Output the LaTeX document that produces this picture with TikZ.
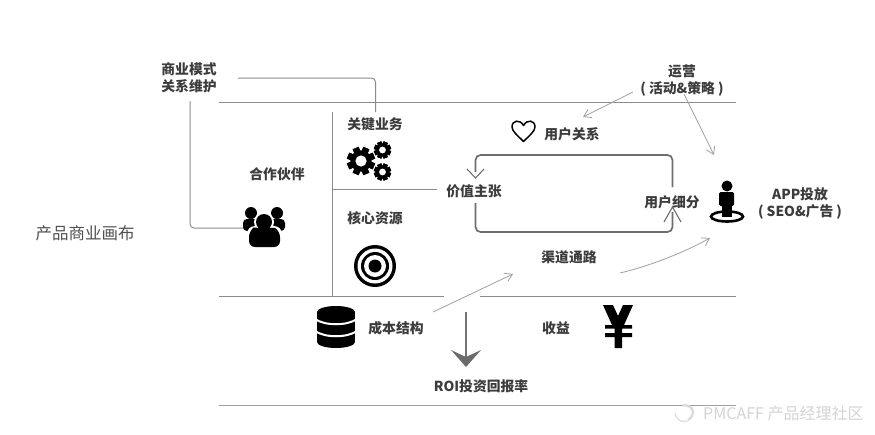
\documentclass[tikz,border=0pt]{standalone}
\usepackage{fontspec}
\setmainfont{Noto Sans CJK SC}
\usetikzlibrary{arrows.meta}
\definecolor{txt}{HTML}{3C3C3C}
\definecolor{rule}{HTML}{8C8C8C}
\definecolor{thin}{HTML}{A0A0A0}
\definecolor{loopc}{HTML}{6E6E6E}
\tikzset{
 lab/.style={font=\fontsize{13.8}{17}\selectfont\bfseries,text=txt,inner sep=0pt,align=center},
 plainlab/.style={font=\fontsize{16.5}{18}\selectfont,text=txt!90,inner sep=0pt},
 wm/.style={font=\fontsize{16}{18}\selectfont,text=black!17,inner sep=0pt},
 hline/.style={draw=rule,line width=1pt},
 wire/.style={draw=black!45,line width=1pt,rounded corners=4pt},
 ptr/.style={draw=thin,line width=.8pt,-{Straight Barb[length=7pt,width=9pt]}},
 looparrow/.style={draw=loopc,line width=1.7pt,rounded corners=5pt},
 ico/.style={fill=black,draw=none}
}
\newcommand{\gearicon}[4]{% x y outer teeth-half-width
 \begin{scope}[shift={(#1,#2)}]
  \foreach \a in {0,45,...,315}{\fill[black,rotate=\a+22.5] (-#4,-#3) rectangle (#4,#3);}
  \fill[black] (0,0) circle[radius=#3*0.76];
  \fill[white] (0,0) circle[radius=#3*0.40];
 \end{scope}}
\begin{document}
\begin{tikzpicture}[x=1pt,y=-1pt]
\useasboundingbox (0,0) rectangle (875,434);
\fill[white] (0,0) rectangle (875,434);
% coordinates
\coordinate (t1) at (219,102); \coordinate (t2) at (736,102);
\coordinate (m1) at (219,296); \coordinate (m2) at (444,296);
\coordinate (m3) at (480,296); \coordinate (m4) at (736,296);
\coordinate (b1) at (219,405); \coordinate (b2) at (736,405);
\coordinate (v1) at (332.5,112); \coordinate (v2) at (332.5,296);
\coordinate (h1) at (332.5,189); \coordinate (h2) at (437,189);
% rules
\draw[hline] (t1)--(t2);
\draw[hline] (m1)--(m2);
\draw[hline] (m3)--(m4);
\draw[hline,draw=thin] (b1)--(b2);
\draw[hline] (v1)--(v2);
\draw[hline] (h1)--(h2);
% labels
\node[plainlab] (canvas) at (85,233) {产品商业画布};
\node[lab] (model) at (189,78) {商业模式\\关系维护};
\node[lab] (partner) at (277,174) {合作伙伴};
\node[lab] (key) at (375,124) {关键业务};
\node[lab] (res) at (375,218) {核心资源};
\node[lab] (rel) at (572,134) {用户关系};
\node[lab] (val) at (474,191) {价值主张};
\node[lab] (seg) at (672,202) {用户细分};
\node[lab] (ops) at (682,81) {运营\\( 活动\&策略 )};
\node[lab] (app) at (800,203) {APP投放\\( SEO\&广告 )};
\node[lab] (chan) at (569,257) {渠道通路};
\node[lab] (cost) at (396,328) {成本结构};
\node[lab] (rev) at (556,328) {收益};
\node[lab] (roi) at (481,386) {ROI投资回报率};
\node[wm,anchor=west] (mark) at (703,413) {PMCAFF 产品经理社区};
\draw[black!14,line width=2.4pt] (683,405) .. controls (694,405) and (696,415) .. (688,420);
\draw[black!14,line width=1.2pt] (675,413) .. controls (676,420) and (682,423) .. (688,421);
% wires
\coordinate (w1a) at (238,78); \coordinate (w1b) at (375.5,78); \coordinate (w1c) at (375.5,112);
\draw[wire] (w1a)--(w1b)--(w1c);
\coordinate (w2a) at (190,101); \coordinate (w2b) at (190,228); \coordinate (w2c) at (244,228);
\draw[wire] (w2a)--(w2b)--(w2c);
% loop
\coordinate (la) at (672.5,187); \coordinate (lb) at (672.5,155); \coordinate (lc) at (475.5,155); \coordinate (ld) at (475.5,178);
\coordinate (le) at (475.5,203); \coordinate (lf) at (475.5,232); \coordinate (lg) at (672.5,232);
\coordinate (li) at (672.5,207);
\draw[looparrow] (la)--(lb)--(lc)--(475.5,172);
\draw[draw=loopc,line width=1.1pt] (467,169)--(ld)--(484,169);
\draw[looparrow] (le)--(lf)--(lg)--(672.5,212);
\draw[draw=loopc,line width=1.1pt] (664,222)--(li)--(681,222);
% thin arrows
\coordinate (p1a) at (633,92); \coordinate (p1b) at (583,117);
\coordinate (p2a) at (684,94); \coordinate (p2b) at (714,155);
\coordinate (p3a) at (620,273); \coordinate (p3b) at (710,238);
\coordinate (p4a) at (433,312); \coordinate (p4b) at (513,274);
\draw[ptr] (p1a)--(p1b);
\draw[ptr] (p2a)--(p2b);
\draw[ptr] (p3a) .. controls (650,266) and (685,252) .. (p3b);
\draw[ptr] (p4a)--(p4b);
% big down arrow
\coordinate (d1) at (466,312); \coordinate (d2) at (466,358);
\draw[draw=black!55,line width=1.3pt] (d1)--(d2);
\fill[black!58] (451,350)--(466,357)--(481,350)--(466,367)--cycle;
% gears
\gearicon{361}{161}{14}{3.2}
\gearicon{382.5}{150}{8.5}{2.3}
\gearicon{382.5}{172}{8.5}{2.3}
% group icon
\fill[black] (251,213) circle[radius=6];
\fill[black] (277,213) circle[radius=6];
\fill[black,rounded corners=4pt] (243,219) rectangle (259,231);
\fill[black,rounded corners=4pt] (269,219) rectangle (285,231);
\fill[white] (264,222) circle[radius=10];
\fill[white,rounded corners=8pt] (247,226) rectangle (282,250);
\fill[black] (264,222) circle[radius=8];
\fill[black,rounded corners=6pt] (249,231) .. controls (253,228) and (275,228) .. (280,231) -- (280,247) -- (249,247) -- cycle;
% target
\fill[black] (375,266) circle[radius=21];
\fill[white] (375,266) circle[radius=17.5];
\fill[black] (375,266) circle[radius=14];
\fill[white] (375,266) circle[radius=11];
\fill[black] (375,266) circle[radius=6.5];
% database
\fill[black] (336,312) ellipse[x radius=19,y radius=6];
\fill[black] (336,342) ellipse[x radius=19,y radius=6];
\fill[black] (317,312) rectangle (355,342);
\draw[white,line width=2pt] (315,319) .. controls (325,326) and (347,326) .. (357,319);
\draw[white,line width=2pt] (315,331) .. controls (325,338) and (347,338) .. (357,331);
% yen
\fill[black] (603,305)--(613,305)--(618,316)--(623,305)--(633,305)--(624,325)--(632,325)--(632,328.5)--(622,328.5)--(622,333)--(632,333)--(632,337)--(622,337)--(622,348)--(614.5,348)--(614.5,337)--(605,337)--(605,333)--(614.5,333)--(614.5,328.5)--(605,328.5)--(605,325)--(612,325)--cycle;
% heart
\draw[black,line width=1.5pt,line join=round] (523.5,141.5) .. controls (517,135) and (512,131) .. (512,127) .. controls (512,120) and (520,119) .. (523.5,125.5) .. controls (527,119) and (535,120) .. (535,127) .. controls (535,131) and (530,135) .. (523.5,141.5) -- cycle;
% person
\draw[black,line width=2.6pt] (727,216.5) ellipse[x radius=16,y radius=5];
\fill[black] (727,186) circle[radius=5.5];
\fill[black,rounded corners=1.5pt] (719,192) rectangle (734,206);
\fill[black] (722,204) rectangle (732,217);
\end{tikzpicture}
\end{document}
